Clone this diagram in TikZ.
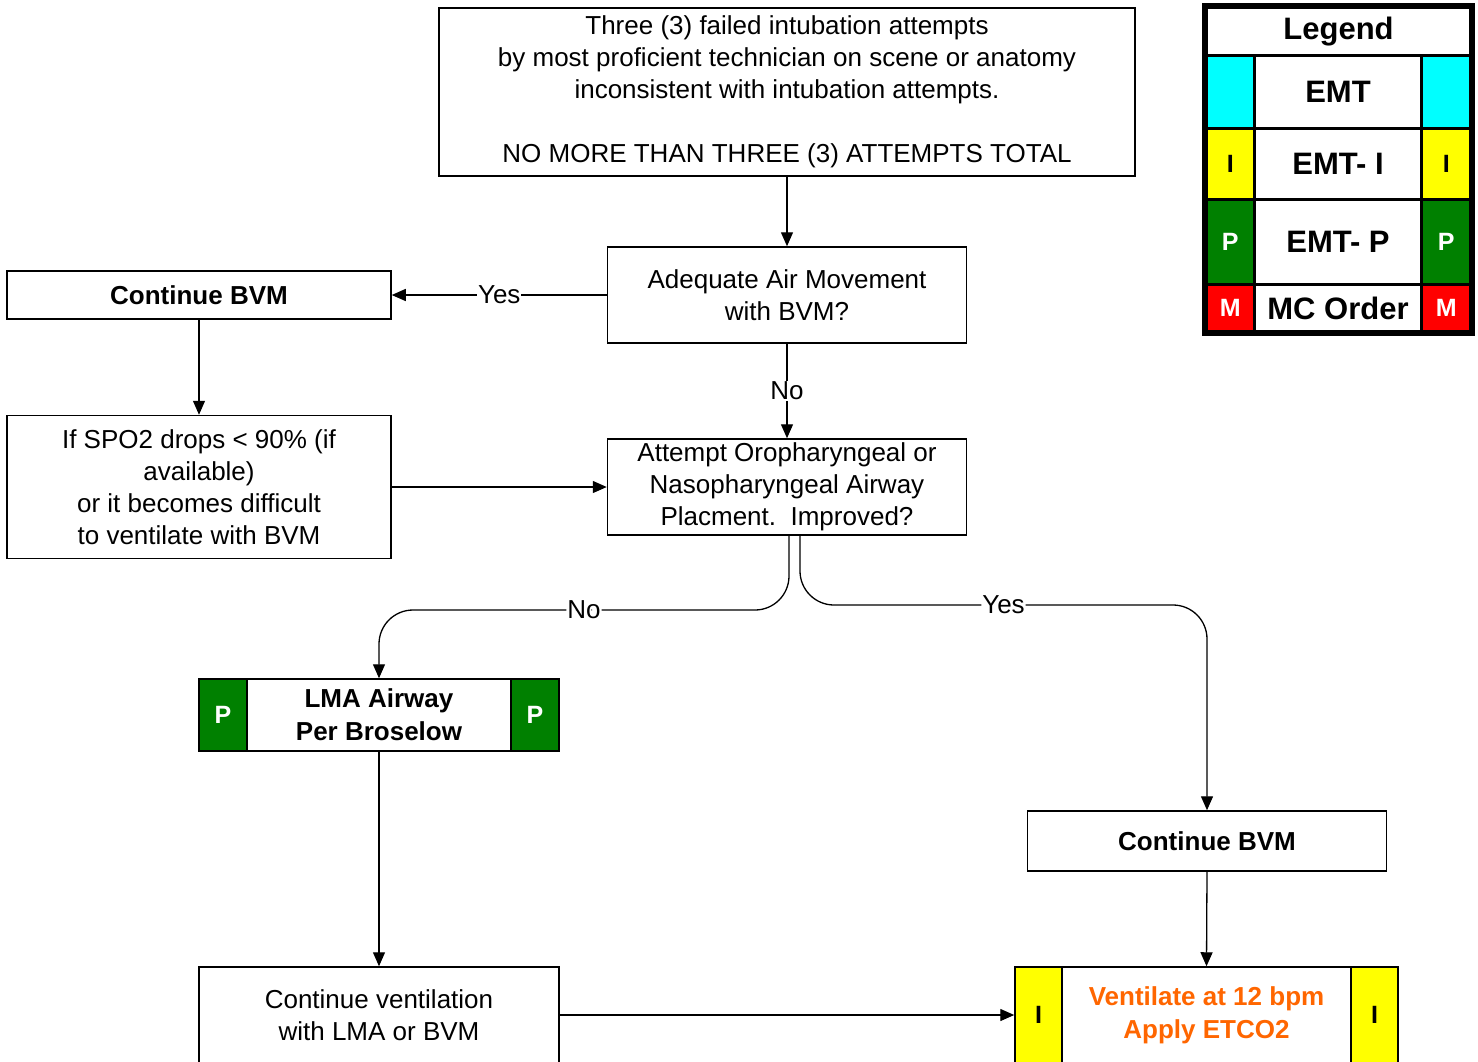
\documentclass[tikz,border=0pt]{standalone}
\usepackage{fontspec}
\setmainfont{Liberation Sans}
\usetikzlibrary{arrows.meta}
\definecolor{cyanc}{HTML}{00FFFF}
\definecolor{yelc}{HTML}{FFFF00}
\definecolor{grnc}{HTML}{008000}
\definecolor{redc}{HTML}{FF0000}
\definecolor{orgc}{HTML}{FF6600}
\begin{document}
\begin{tikzpicture}[x=1pt,y=-1pt,
 box/.style={draw, line width=1.5pt, fill=white, inner sep=0pt, align=center, font=\fontsize{26}{32}\selectfont},
 bbox/.style={box, font=\fontsize{26}{33}\selectfont\bfseries},
 side/.style={draw, line width=1.5pt, inner sep=0pt, font=\fontsize{25}{28}\selectfont\bfseries},
 arr/.style={line width=1.3pt, -{Triangle[length=14pt,width=12pt]}},
 lbl/.style={fill=white, inner sep=1pt, font=\fontsize{26}{30}\selectfont},
 leg/.style={draw, line width=3.5pt, inner sep=0pt, font=\fontsize{31}{36}\selectfont\bfseries},
 legs/.style={draw, line width=3.5pt, inner sep=0pt, font=\fontsize{25}{28}\selectfont\bfseries},
]
\clip (0,0) rectangle (1478,1061);
\fill[white] (0,0) rectangle (1478,1061);

% main boxes
\node[box, minimum width=696pt, minimum height=168pt] (top) at (787,92)
 {Three (3) failed intubation attempts\\by most proficient technician on scene or anatomy\\inconsistent with intubation attempts.\\\mbox{}\\NO MORE THAN THREE (3) ATTEMPTS TOTAL};
\node[box, minimum width=359pt, minimum height=96pt] (adeq) at (787,295)
 {Adequate Air Movement\\with BVM?};
\node[bbox, minimum width=384pt, minimum height=48pt] (cbvm1) at (199,295) {Continue BVM};
\node[box, minimum width=384pt, minimum height=143pt] (spo2) at (199,487)
 {If SPO2 drops < 90\% (if\\available)\\or it becomes difficult\\to ventilate with BVM};
\node[box, minimum width=359pt, minimum height=96pt] (att) at (787,487)
 {Attempt Oropharyngeal or\\Nasopharyngeal Airway\\Placment.\ \ Improved?};
\node[bbox, minimum width=360pt, minimum height=72pt] (lma) at (379,715)
 {LMA Airway\\Per Broselow};
\node[side, fill=grnc, text=white, minimum width=48pt, minimum height=72pt] (lmal) at (223,715) {P};
\node[side, fill=grnc, text=white, minimum width=48pt, minimum height=72pt] (lmar) at (535,715) {P};
\node[bbox, minimum width=359pt, minimum height=60pt] (cbvm2) at (1207,841) {Continue BVM};
\node[box, minimum width=360pt, minimum height=96pt] (cvent) at (379,1015)
 {Continue ventilation\\with LMA or BVM};
\node[bbox, text=orgc, minimum width=383pt, minimum height=96pt] (vent) at (1206.5,1015)
 {Ventilate at 12 bpm\\Apply ETCO2};
\node[side, fill=yelc, minimum width=47pt, minimum height=96pt] (ventl) at (1038.5,1015) {I};
\node[side, fill=yelc, minimum width=47pt, minimum height=96pt] (ventr) at (1374.5,1015) {I};

% connectors
\draw[arr] (top.south) -- (top.south |- adeq.north);
\draw[arr] (adeq.west) -- node[lbl]{Yes} (cbvm1.east);
\draw[arr] (cbvm1.south) -- (spo2.north);
\draw[arr] (adeq.south) -- node[lbl]{No} (att.north);
\draw[arr] (spo2.east) -- (att.west);
\coordinate (nobend) at (379,610);
\coordinate (yesbend) at (1207,605);
\draw[arr, rounded corners=34pt] ([xshift=2pt]att.south) |- node[lbl,pos=0.75]{No} (nobend) -- (lma.north);
\draw[arr, rounded corners=34pt] ([xshift=13pt]att.south) |- node[lbl,pos=0.75]{Yes} (yesbend) -- (cbvm2.north);
\draw[arr] (lma.south) -- (cvent.north);
\draw[arr] (cbvm2.south) -- (vent.north);
\draw[arr] (cvent.east) -- (vent.west);

% legend
\node[leg, fill=white, minimum width=265pt, minimum height=48.5pt] (lgt) at (1338.5,31.25) {Legend};
\node[leg, fill=white, minimum width=167pt, minimum height=73pt] (lg1) at (1338,92) {EMT};
\node[legs, fill=cyanc, minimum width=48.5pt, minimum height=73pt] (lg1l) at (1230.25,92) {};
\node[legs, fill=cyanc, minimum width=49.5pt, minimum height=73pt] (lg1r) at (1446.25,92) {};
\node[leg, fill=white, minimum width=167pt, minimum height=71pt] (lg2) at (1338,164) {EMT- I};
\node[legs, fill=yelc, minimum width=48.5pt, minimum height=71pt] (lg2l) at (1230.25,164) {I};
\node[legs, fill=yelc, minimum width=49.5pt, minimum height=71pt] (lg2r) at (1446.25,164) {I};
\node[leg, fill=white, minimum width=167pt, minimum height=85pt] (lg3) at (1338,242) {EMT- P};
\node[legs, fill=grnc, text=white, minimum width=48.5pt, minimum height=85pt] (lg3l) at (1230.25,242) {P};
\node[legs, fill=grnc, text=white, minimum width=49.5pt, minimum height=85pt] (lg3r) at (1446.25,242) {P};
\node[leg, fill=white, minimum width=167pt, minimum height=47pt] (lg4) at (1338,308) {MC Order};
\node[legs, fill=redc, text=white, minimum width=48.5pt, minimum height=47pt] (lg4l) at (1230.25,308) {M};
\node[legs, fill=redc, text=white, minimum width=49.5pt, minimum height=47pt] (lg4r) at (1446.25,308) {M};
\draw[line width=4.5pt] (lgt.north west) rectangle (lg4r.south east);
\end{tikzpicture}
\end{document}
